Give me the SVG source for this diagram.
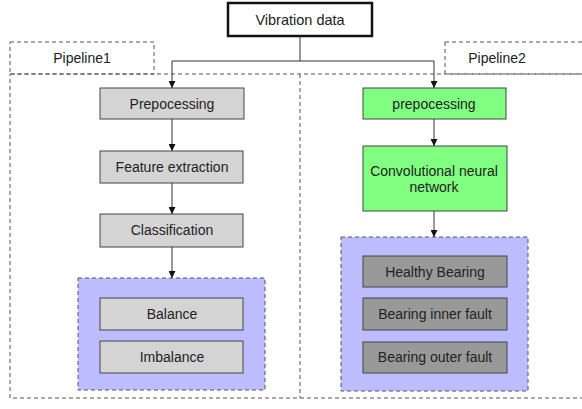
<svg xmlns="http://www.w3.org/2000/svg" width="582" height="409" viewBox="0 0 582 409">
<style>
text{font-family:"Liberation Sans",Arial,sans-serif;font-size:14px;fill:#222;text-anchor:middle;dominant-baseline:central}
.dash{fill:none;stroke:#555;stroke-width:1;stroke-dasharray:4 3}
.grp{fill:#bcbcff;stroke:#555;stroke-width:1;stroke-dasharray:4 3}
.lg{fill:#d4d4d4;stroke:#444;stroke-width:1}
.gr{fill:#80ff80;stroke:#444;stroke-width:1}
.dg{fill:#999;stroke:#444;stroke-width:1}
.con{fill:none;stroke:#333;stroke-width:1}
</style>
<defs>
<marker id="ah" viewBox="0 0 10 10" refX="10" refY="5" markerWidth="7" markerHeight="7" orient="auto" markerUnits="userSpaceOnUse">
<path d="M0,0 L10,5 L0,10 z" fill="#111"/>
</marker>
</defs>
<g id="frame">
<rect class="dash" x="10" y="42" width="144" height="32"/>
<text x="82" y="58">Pipeline1</text>
<rect class="dash" x="445" y="42" width="145" height="32"/>
<text x="497" y="58">Pipeline2</text>
<rect class="dash" x="10" y="74" width="580" height="324"/>
<line class="dash" x1="300" y1="74" x2="300" y2="398"/>
</g>
<g id="vibration">
<rect x="228" y="3" width="144" height="33" fill="#fff" stroke="#111" stroke-width="2.5"/>
<text x="300" y="20" style="font-size:14.5px">Vibration data</text>
</g>
<g id="p1-pre"><rect class="lg" x="100" y="88" width="144" height="31"/><text x="172" y="104">Prepocessing</text></g>
<g id="p1-feat"><rect class="lg" x="100" y="151" width="143" height="32"/><text x="172" y="167">Feature extraction</text></g>
<g id="p1-class"><rect class="lg" x="100" y="214" width="143" height="33"/><text x="172" y="230">Classification</text></g>
<g id="p1-out">
<rect class="grp" x="78" y="278" width="187" height="112"/>
<g id="balance"><rect class="lg" x="100" y="298" width="143" height="32"/><text x="172" y="314">Balance</text></g>
<g id="imbalance"><rect class="lg" x="100" y="341" width="143" height="32"/><text x="172" y="357">Imbalance</text></g>
</g>
<g id="p2-pre"><rect class="gr" x="363" y="88" width="143" height="31"/><text x="434" y="104">prepocessing</text></g>
<g id="p2-cnn"><rect class="gr" x="363" y="146" width="144" height="65"/><text x="434" y="171">Convolutional neural</text><text x="434" y="187">network</text></g>
<g id="p2-out">
<rect class="grp" x="341" y="237" width="187" height="154"/>
<g id="healthy"><rect class="dg" x="363" y="256" width="144" height="31"/><text x="435" y="272">Healthy Bearing</text></g>
<g id="inner"><rect class="dg" x="363" y="298" width="144" height="32"/><text x="435" y="314">Bearing inner fault</text></g>
<g id="outer"><rect class="dg" x="363" y="342" width="144" height="31"/><text x="435" y="357">Bearing outer fault</text></g>
</g>
<g id="connectors">
<path class="con" d="M300,36 V61"/>
<path class="con" d="M300,61 H172 V88" marker-end="url(#ah)"/>
<path class="con" d="M300,61 H434 V88" marker-end="url(#ah)"/>
<path class="con" d="M172,119 V151" marker-end="url(#ah)"/>
<path class="con" d="M172,183 V214" marker-end="url(#ah)"/>
<path class="con" d="M172,247 V278" marker-end="url(#ah)"/>
<path class="con" d="M434,119 V146" marker-end="url(#ah)"/>
<path class="con" d="M434,211 V237" marker-end="url(#ah)"/>
</g>
</svg>
